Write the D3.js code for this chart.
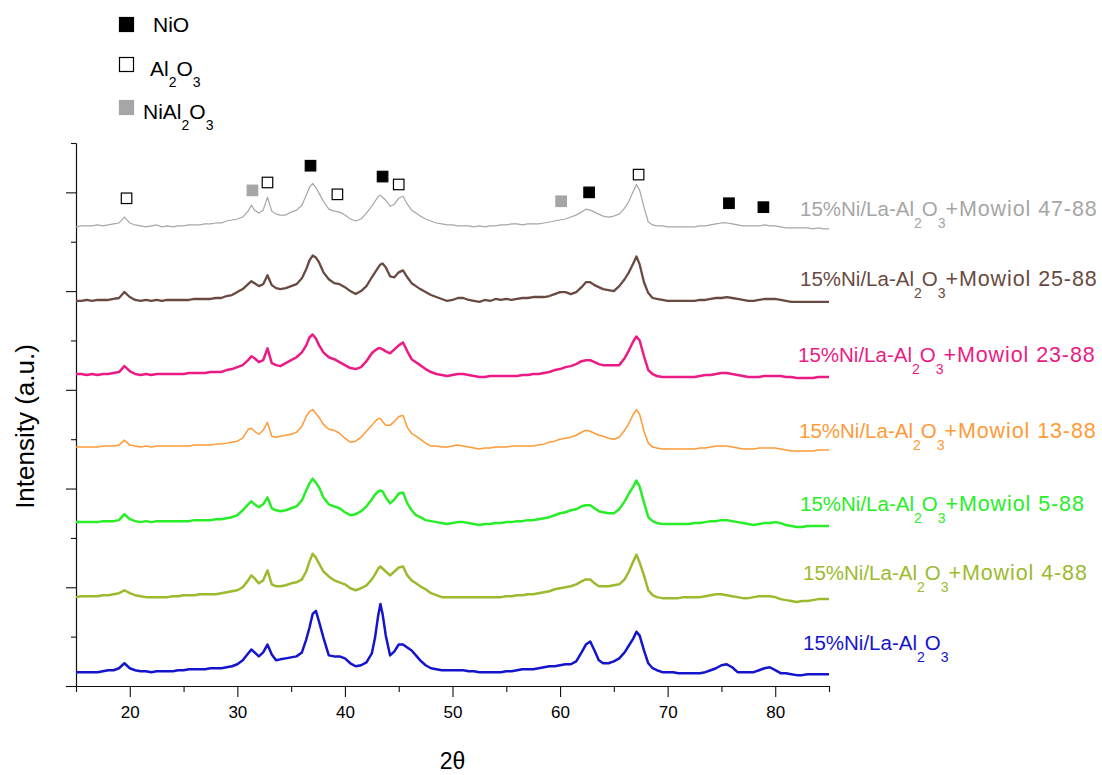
<!DOCTYPE html>
<html>
<head>
<meta charset="utf-8">
<script src="https://cdn.jsdelivr.net/npm/d3@7"></script>
<style>
  body { margin: 0; background: #fff; }
  svg { display: block; }
  text { font-family: "Liberation Sans", Arial, Helvetica, sans-serif; }
</style>
</head>
<body>
<svg id="chart" width="1102" height="775"></svg>
<script>
// Diffraction angle grid (degrees 2θ), ten points per row
const twoTheta = [
  15, 15.5, 16, 16.5, 17, 17.5, 18, 18.5, 19, 19.5,
  20, 20.5, 21, 21.5, 22, 22.5, 23, 23.5, 24, 24.5,
  25, 25.5, 26, 26.5, 27, 27.5, 28, 28.5, 29, 29.5,
  30, 30.5, 31, 31.3, 31.6, 32, 32.4, 32.8, 33.2, 33.6,
  34, 34.5, 35, 35.5, 36, 36.4, 36.7, 37, 37.3, 37.6,
  38, 38.5, 39, 39.5, 40, 40.5, 41, 41.5, 42, 42.5,
  42.8, 43.1, 43.3, 43.5, 43.8, 44.2, 44.6, 45, 45.4, 45.8,
  46.2, 46.6, 47, 47.5, 48, 48.5, 49, 49.5, 50, 50.5,
  51, 51.5, 52, 52.5, 53, 53.5, 54, 54.5, 55, 55.5,
  56, 56.5, 57, 57.5, 58, 58.5, 59, 59.5, 60, 60.5,
  61, 61.5, 62, 62.4, 62.8, 63.2, 63.6, 64, 64.5, 65,
  65.5, 66, 66.4, 66.8, 67.1, 67.4, 67.8, 68.2, 68.6, 69,
  69.5, 70, 70.5, 71, 71.5, 72, 72.5, 73, 73.5, 74,
  74.5, 75, 75.5, 76, 76.5, 77, 77.5, 78, 78.5, 79,
  79.5, 80, 80.5, 81, 81.5, 82, 82.5, 83, 83.5, 84,
  84.5, 85
];

// Stacked intensities (a.u.), one array per sample
const ni15 = [
  14, 14, 14, 14, 14, 15, 16, 16, 18, 23,
  18, 16, 15, 15, 14, 15, 15, 15, 15, 16,
  16, 17, 17, 17, 17, 18, 18, 18, 19, 20,
  22, 26, 33, 37, 34, 30, 34, 42, 32, 26,
  27, 28, 29, 30, 34, 47, 59, 73, 76, 65,
  49, 31, 30, 30, 28, 23, 20, 21, 24, 33,
  49, 72, 83, 73, 51, 31, 35, 42, 42, 39,
  36, 31, 26, 21, 18, 17, 16, 16, 16, 16,
  16, 15, 15, 14, 14, 14, 14, 14, 15, 15,
  16, 17, 17, 17, 18, 19, 20, 20, 21, 22,
  22, 25, 34, 42, 45, 36, 26, 23, 23, 25,
  28, 34, 41, 48, 55, 51, 36, 23, 18, 16,
  14, 14, 14, 13, 13, 13, 13, 13, 14, 16,
  18, 21, 22, 19, 14, 14, 14, 14, 16, 18,
  19, 16, 13, 13, 12, 11, 11, 12, 12, 12,
  12, 12
];
const mowiol4_88 = [
  90, 91, 91, 91, 91, 92, 92, 93, 94, 97,
  94, 92, 91, 90, 90, 90, 90, 90, 91, 91,
  92, 92, 92, 93, 93, 93, 93, 94, 95, 96,
  97, 100, 107, 112, 109, 104, 107, 117, 103, 101,
  101, 102, 104, 105, 108, 116, 126, 134, 130, 124,
  116, 111, 107, 105, 103, 99, 97, 99, 102, 108,
  113, 119, 121, 119, 116, 112, 116, 120, 121, 112,
  107, 104, 101, 98, 94, 92, 90, 90, 90, 90,
  90, 90, 90, 90, 90, 90, 90, 90, 91, 91,
  92, 92, 93, 93, 94, 95, 96, 98, 99, 100,
  101, 103, 106, 108, 108, 104, 101, 101, 101, 102,
  103, 108, 116, 126, 133, 125, 112, 97, 92, 90,
  89, 89, 89, 89, 90, 90, 90, 90, 91, 92,
  93, 93, 92, 91, 90, 89, 89, 90, 91, 91,
  91, 90, 88, 87, 86, 85, 86, 86, 87, 88,
  88, 88
];
const mowiol5_88 = [
  166, 166, 166, 166, 166, 167, 167, 167, 168, 174,
  169, 167, 166, 167, 166, 167, 167, 167, 167, 167,
  167, 167, 168, 168, 168, 168, 169, 169, 170, 171,
  173, 178, 184, 187, 184, 181, 184, 191, 180, 178,
  177, 178, 180, 182, 188, 198, 205, 210, 206, 201,
  191, 184, 182, 180, 176, 173, 174, 177, 182, 189,
  194, 197, 198, 197, 191, 185, 189, 195, 196, 185,
  178, 173, 171, 168, 167, 166, 165, 164, 165, 166,
  166, 165, 164, 163, 164, 164, 165, 165, 166, 166,
  167, 167, 168, 168, 169, 170, 171, 173, 175, 176,
  178, 179, 182, 183, 183, 180, 177, 176, 175, 175,
  179, 187, 195, 202, 208, 202, 186, 171, 167, 165,
  164, 164, 164, 164, 164, 164, 165, 165, 166, 167,
  167, 168, 168, 167, 166, 165, 164, 163, 164, 165,
  165, 166, 165, 163, 162, 161, 161, 162, 162, 162,
  162, 162
];
const mowiol13_88 = [
  242, 242, 242, 242, 242, 243, 243, 243, 244, 249,
  244, 243, 242, 243, 242, 243, 243, 243, 243, 243,
  243, 243, 244, 244, 244, 244, 245, 245, 246, 247,
  248, 251, 260, 261, 258, 255, 259, 267, 253, 252,
  253, 254, 255, 257, 263, 273, 278, 280, 276, 272,
  265, 260, 259, 256, 251, 247, 248, 252, 258, 264,
  268, 271, 271, 268, 264, 264, 268, 273, 274, 262,
  256, 253, 250, 246, 243, 243, 242, 242, 243, 244,
  243, 242, 241, 240, 241, 241, 242, 242, 242, 243,
  243, 243, 243, 243, 244, 245, 247, 248, 250, 251,
  252, 254, 257, 259, 258, 256, 254, 253, 251, 250,
  252, 259, 266, 275, 280, 275, 258, 246, 242, 241,
  240, 240, 240, 240, 240, 240, 240, 241, 241, 242,
  243, 243, 243, 242, 241, 240, 240, 240, 241, 241,
  241, 241, 240, 239, 238, 238, 238, 238, 238, 239,
  239, 239
];
const mowiol23_88 = [
  316, 316, 315, 316, 315, 316, 316, 317, 318, 324,
  319, 316, 315, 316, 315, 316, 316, 316, 316, 316,
  316, 317, 317, 317, 317, 318, 318, 318, 320, 321,
  323, 325, 330, 334, 332, 328, 330, 342, 327, 325,
  324, 327, 330, 333, 338, 345, 353, 356, 352, 345,
  338, 333, 331, 328, 325, 322, 321, 323, 329, 337,
  340, 342, 342, 341, 339, 337, 341, 345, 348, 339,
  331, 328, 325, 321, 318, 316, 315, 314, 315, 316,
  316, 315, 314, 313, 313, 314, 314, 314, 314, 314,
  314, 315, 315, 316, 316, 317, 318, 320, 321, 323,
  324, 326, 329, 330, 330, 328, 326, 325, 325, 325,
  325, 332, 340, 349, 354, 350, 334, 320, 316, 314,
  313, 313, 313, 313, 313, 313, 313, 314, 315, 315,
  316, 317, 317, 316, 315, 314, 313, 313, 313, 314,
  314, 314, 314, 313, 313, 312, 312, 312, 312, 313,
  313, 313
];
const mowiol25_88 = [
  390, 390, 391, 390, 391, 391, 391, 392, 393, 399,
  394, 391, 390, 391, 390, 391, 390, 391, 391, 391,
  391, 391, 392, 392, 392, 392, 393, 393, 395, 396,
  399, 402, 407, 410, 408, 405, 407, 416, 406, 403,
  402, 403, 405, 407, 413, 422, 431, 436, 434, 429,
  419, 412, 408, 407, 404, 400, 397, 400, 405, 414,
  419, 424, 427, 428, 424, 415, 414, 419, 421, 414,
  408, 405, 402, 399, 396, 394, 392, 390, 391, 393,
  393, 391, 390, 389, 391, 390, 392, 391, 392, 391,
  392, 393, 393, 394, 394, 394, 395, 397, 399, 399,
  397, 399, 404, 409, 409, 406, 404, 402, 401, 400,
  405, 412, 419, 428, 435, 427, 409, 398, 393, 392,
  391, 390, 390, 390, 390, 390, 390, 391, 391, 392,
  393, 393, 394, 393, 392, 391, 390, 390, 391, 392,
  392, 392, 391, 390, 389, 389, 389, 389, 389, 389,
  389, 389
];
const mowiol47_88 = [
  465, 466, 466, 466, 467, 466, 467, 468, 469, 475,
  469, 467, 466, 465, 466, 467, 465, 466, 465, 466,
  466, 467, 467, 467, 468, 468, 469, 469, 471, 472,
  473, 475, 481, 487, 482, 479, 482, 495, 481, 478,
  477, 477, 480, 482, 487, 497, 505, 509, 505, 499,
  491, 483, 481, 480, 477, 473, 471, 473, 479, 486,
  491, 496, 497, 495, 492, 486, 488, 494, 496, 488,
  482, 479, 476, 473, 471, 469, 468, 467, 467, 466,
  466, 466, 465, 466, 465, 466, 466, 467, 467, 468,
  468, 467, 468, 468, 468, 469, 470, 471, 472, 473,
  475, 477, 480, 483, 482, 480, 478, 476, 475, 476,
  478, 484, 491, 501, 508, 502, 485, 470, 467, 466,
  466, 465, 465, 465, 465, 465, 465, 466, 466, 467,
  468, 469, 469, 468, 467, 466, 466, 466, 466, 467,
  466, 466, 465, 464, 464, 464, 464, 464, 463, 464,
  463, 463
];

// Sample names (the part after the support) and where each label sits, in intensity units
const sampleSuffix = ["", "+Mowiol 4-88", "+Mowiol 5-88", "+Mowiol 13-88", "+Mowiol 23-88", "+Mowiol 25-88", "+Mowiol 47-88"];
const labelLevel   = [36, 107, 177, 251, 328, 405, 476];

// Phase reflections marked above the top pattern
const peakPhase = ["Al2O3", "NiAl2O3", "Al2O3", "NiO", "Al2O3", "NiO", "Al2O3", "NiAl2O3", "NiO", "Al2O3", "NiO", "NiO"];
const peakTheta = [19.7, 31.4, 32.8, 36.8, 39.3, 43.5, 45.0, 60.1, 62.7, 67.3, 75.7, 78.9];
const peakLevel = [494, 502, 510, 527, 498, 516, 508, 491, 500, 518, 489, 485];

// Axis ticks
const xMajorTicks = [20, 30, 40, 50, 60, 70, 80];
const xMinorTicks = [15, 25, 35, 45, 55, 65, 75, 85];
const yMajorTicks = [0, 100, 200, 300, 400, 500];
const yMinorTicks = [50, 150, 250, 350, 450, 550];

// ---- drawing ----
const series = [ni15, mowiol4_88, mowiol5_88, mowiol13_88, mowiol23_88, mowiol25_88, mowiol47_88];
const colors = ["#1414cc", "#9cba2e", "#27ee27", "#ff9a38", "#ec1a84", "#684a42", "#a6a6a6"];
const widths = [2.5, 2.5, 2.5, 1.5, 2.5, 2.3, 1.2];
const labelX = [803, 803, 800, 799, 798, 800, 800];

const svg = d3.select("#chart");
const x = d3.scaleLinear().domain([15, 85]).range([76, 829]);
const y = d3.scaleLinear().domain([0, 550]).range([686, 143]);

const axisColor = "#111";

// x axis: minor ticks, then major ticks with labels
const gx = svg.append("g").attr("transform", `translate(0,${y(0)})`);
gx.append("g").call(d3.axisBottom(x).tickValues(xMinorTicks).tickSize(6).tickSizeOuter(0).tickFormat(""));
gx.append("g").call(d3.axisBottom(x).tickValues(xMajorTicks).tickSize(11).tickSizeOuter(0).tickPadding(9).tickFormat(d3.format("d")));
gx.selectAll("path, line").attr("stroke", axisColor).attr("stroke-width", 1.1);
gx.selectAll("text").attr("font-size", 17).attr("fill", "#000").attr("font-family", '"Liberation Sans", Arial, sans-serif');

// y axis: no labels
const gy = svg.append("g").attr("transform", `translate(${x(15)},0)`);
gy.append("g").call(d3.axisLeft(y).tickValues(yMinorTicks).tickSize(5).tickSizeOuter(0).tickFormat(""));
gy.append("g").call(d3.axisLeft(y).tickValues(yMajorTicks).tickSize(10).tickSizeOuter(0).tickFormat(""));
gy.selectAll("path, line").attr("stroke", axisColor).attr("stroke-width", 1.1);

// patterns
const line = d3.line()
  .x((d, i) => x(twoTheta[i]))
  .y(d => y(d))
  .curve(d3.curveLinear);

svg.append("g").selectAll("path")
  .data(series)
  .join("path")
  .attr("fill", "none")
  .attr("stroke", (d, i) => colors[i])
  .attr("stroke-width", (d, i) => widths[i])
  .attr("stroke-linejoin", "round")
  .attr("d", line);

// chemical formula writer: parts alternate normal text and subscripts
function formula(textSel, parts, subSize, subShift) {
  let down = false;
  parts.forEach(p => {
    const t = textSel.append("tspan").text(p.t);
    if (p.size) t.attr("font-size", p.size);
    if (p.spacing) t.attr("letter-spacing", p.spacing);
    if (p.sub) {
      t.attr("font-size", subSize).attr("dy", subShift);
      down = true;
    } else if (down) {
      t.attr("dy", -subShift);
      down = false;
    }
  });
}

// sample labels
series.forEach((s, i) => {
  const t = svg.append("text")
    .attr("x", labelX[i])
    .attr("y", y(labelLevel[i]))
    .attr("font-size", 20.5)
    .attr("fill", colors[i]);
  const parts = [{t: "15%Ni/La-Al"}, {t: "2", sub: true}, {t: "O"}, {t: "3", sub: true}];
  if (sampleSuffix[i]) parts.push({t: sampleSuffix[i], size: 21.5, spacing: 0.9});
  formula(t, parts, 14, 11.5);
});

// phase markers
const phaseStyle = {
  "NiO":     {fill: "#000", stroke: "#000"},
  "Al2O3":   {fill: "#fff", stroke: "#000"},
  "NiAl2O3": {fill: "#a6a6a6", stroke: "#a6a6a6"}
};
const mk = 10.5;
svg.append("g").selectAll("rect")
  .data(peakTheta)
  .join("rect")
  .attr("x", d => x(d) - mk / 2)
  .attr("y", (d, i) => y(peakLevel[i]) - mk / 2)
  .attr("width", mk)
  .attr("height", mk)
  .attr("fill", (d, i) => phaseStyle[peakPhase[i]].fill)
  .attr("stroke", (d, i) => phaseStyle[peakPhase[i]].stroke)
  .attr("stroke-width", 1.2);

// legend
const legendItems = [
  {phase: "NiO", parts: [{t: "NiO"}], tx: 153, ty: 32},
  {phase: "Al2O3", parts: [{t: "Al"}, {t: "2", sub: true}, {t: "O"}, {t: "3", sub: true}], tx: 150, ty: 76},
  {phase: "NiAl2O3", parts: [{t: "NiAl"}, {t: "2", sub: true}, {t: "O"}, {t: "3", sub: true}], tx: 143, ty: 119}
];
const legendBoxY = [17, 57, 100];
legendItems.forEach((it, i) => {
  const st = phaseStyle[it.phase];
  svg.append("rect")
    .attr("x", 119.5).attr("y", legendBoxY[i] + 0.5)
    .attr("width", 14).attr("height", 14)
    .attr("fill", st.fill).attr("stroke", st.stroke).attr("stroke-width", 1.2);
  const t = svg.append("text")
    .attr("x", it.tx).attr("y", it.ty)
    .attr("font-size", 21).attr("fill", "#000");
  formula(t, it.parts, 14, 11);
});

// axis titles
svg.append("text")
  .attr("transform", `translate(34,${(y(0) + y(550)) / 2 + 12}) rotate(-90)`)
  .attr("text-anchor", "middle")
  .attr("font-size", 26)
  .attr("fill", "#000")
  .text("Intensity (a.u.)");

svg.append("text")
  .attr("x", (x(15) + x(85)) / 2)
  .attr("y", 769)
  .attr("text-anchor", "middle")
  .attr("font-size", 23)
  .attr("font-family", '"Liberation Serif", "Times New Roman", serif')
  .attr("fill", "#000")
  .text("2θ");
</script>
</body>
</html>
